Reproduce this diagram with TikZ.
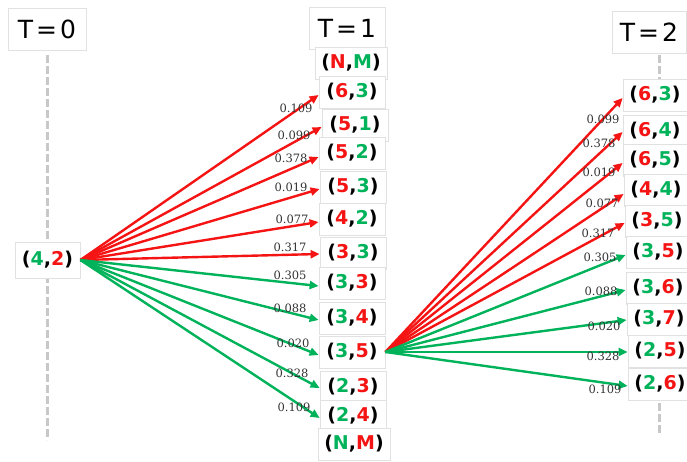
\documentclass[tikz,border=0pt]{standalone}
\usepackage{fontspec}
\setmainfont{DejaVu Sans}
\newfontfamily\lblfont{DejaVu Serif}
\usetikzlibrary{arrows.meta}
\definecolor{myred}{RGB}{245,20,20}
\definecolor{mygreen}{RGB}{0,178,90}
\definecolor{boxgray}{RGB}{225,225,225}
\definecolor{dashgray}{RGB}{200,200,200}
\newcommand{\rg}[2]{(\textcolor{myred}{#1},\textcolor{mygreen}{#2})}
\newcommand{\gr}[2]{(\textcolor{mygreen}{#1},\textcolor{myred}{#2})}
\begin{document}
\begin{tikzpicture}[x=1pt,y=-1pt,
  titlebox/.style={draw=boxgray, fill=white, line width=0.8pt, minimum height=42pt, inner sep=0pt, font=\fontsize{25}{25}\selectfont},
  pairbox/.style={draw=boxgray, fill=white, line width=0.8pt, minimum width=66pt, minimum height=32pt, inner sep=0pt, font=\fontsize{19}{19}\selectfont\bfseries},
  prob/.style={font=\lblfont\fontsize{11.5}{11.5}\selectfont, text=black!80, inner sep=0pt},
  redarr/.style={draw=myred, line width=2.4pt, -{Triangle[length=9pt,width=8pt]}},
  grnarr/.style={draw=mygreen, line width=2.4pt, -{Triangle[length=9pt,width=8pt]}},
  vdash/.style={draw=dashgray, line width=3pt, dash pattern=on 8pt off 3pt}]
\useasboundingbox (0,0) rectangle (687,462);
% dashed time lines
\coordinate (d0a) at (47,55);
\coordinate (d0b) at (47,440);
\draw[vdash] (d0a) -- (d0b);
\coordinate (d2a) at (659,55);
\coordinate (d2b) at (659,80);
\coordinate (d2c) at (659,403);
\coordinate (d2d) at (659,434);
\draw[vdash] (d2a) -- (d2b);
\draw[vdash] (d2c) -- (d2d);
% titles
\node[titlebox, minimum width=78pt] (t0) at (47,29) {T\kern3pt=\kern3pt0};
\node[titlebox, minimum width=76pt] (t1) at (347,28) {T\kern3pt=\kern3pt1};
\node[titlebox, minimum width=74pt] (t2) at (649,32) {T\kern3pt=\kern3pt2};
% T=0
\node[pairbox, minimum width=65pt, minimum height=36pt] (s) at (47.5,260) {\gr{4}{2}};
% T=1 column
\node[pairbox, minimum width=72pt] (nm1) at (351,63) {\rg{N}{M}};
\node[pairbox] (a63) at (352,92) {\rg{6}{3}};
\node[pairbox] (a51) at (355,125) {\rg{5}{1}};
\node[pairbox] (a52) at (352,153) {\rg{5}{2}};
\node[pairbox] (a53) at (353,187) {\rg{5}{3}};
\node[pairbox] (a42) at (352,219) {\rg{4}{2}};
\node[pairbox] (a33) at (353,253) {\rg{3}{3}};
\node[pairbox] (b33) at (352,283) {\gr{3}{3}};
\node[pairbox] (b34) at (352,318) {\gr{3}{4}};
\node[pairbox] (b35) at (352,352) {\gr{3}{5}};
\node[pairbox] (b23) at (353,387) {\gr{2}{3}};
\node[pairbox] (b24) at (353,416) {\gr{2}{4}};
\node[pairbox, minimum width=72pt] (nm2) at (354,444) {\gr{N}{M}};
% T=2 column
\node[pairbox, minimum width=64pt] (c63) at (655,95) {\rg{6}{3}};
\node[pairbox, minimum width=64pt] (c64) at (655,131) {\rg{6}{4}};
\node[pairbox, minimum width=64pt] (c65) at (655,160) {\rg{6}{5}};
\node[pairbox, minimum width=64pt] (c44) at (656,190) {\rg{4}{4}};
\node[pairbox, minimum width=64pt] (c35) at (657,221) {\rg{3}{5}};
\node[pairbox, minimum width=64pt] (e35) at (658,252) {\gr{3}{5}};
\node[pairbox, minimum width=64pt] (e36) at (658,288) {\gr{3}{6}};
\node[pairbox, minimum width=64pt] (e37) at (659,319) {\gr{3}{7}};
\node[pairbox, minimum width=64pt] (e25) at (660,351) {\gr{2}{5}};
\node[pairbox, minimum width=64pt] (e26) at (660,384) {\gr{2}{6}};
% arrows T=0 -> T=1
\draw[redarr] (s.east) -- ([yshift=-3pt]a63.west);
\draw[redarr] (s.east) -- ([yshift=-2pt]a51.west);
\draw[redarr] (s.east) -- ([yshift=-4pt]a52.west);
\draw[redarr] (s.east) -- ([yshift=-2pt]a53.west);
\draw[redarr] (s.east) -- ([yshift=-3pt]a42.west);
\draw[redarr] (s.east) -- ([yshift=-1pt]a33.west);
\draw[grnarr] (s.east) -- ([yshift=-3pt]b33.west);
\draw[grnarr] (s.east) -- ([yshift=-2pt]b34.west);
\draw[grnarr] (s.east) -- ([yshift=-3pt]b35.west);
\draw[grnarr] (s.east) -- ([yshift=-1pt]b23.west);
\draw[grnarr] (s.east) -- ([yshift=-2pt]b24.west);
% arrows T=1 -> T=2
\draw[redarr] (b35.east) -- ([yshift=-3pt]c63.west);
\draw[redarr] (b35.east) -- ([yshift=-1pt]c64.west);
\draw[redarr] (b35.east) -- ([yshift=-3pt]c65.west);
\draw[redarr] (b35.east) -- ([yshift=-4pt]c44.west);
\draw[redarr] (b35.east) -- ([yshift=-2pt]c35.west);
\draw[grnarr] (b35.east) -- ([yshift=-3pt]e35.west);
\draw[grnarr] (b35.east) -- ([yshift=-2pt]e36.west);
\draw[grnarr] (b35.east) -- ([yshift=-1pt]e37.west);
\draw[grnarr] (b35.east) -- ([yshift=-1pt]e25.west);
\draw[grnarr] (b35.east) -- ([yshift=-2pt]e26.west);
% probabilities T=0 -> T=1
\node[prob] (p1) at (296,108) {0.109};
\node[prob] (p2) at (294,135) {0.099};
\node[prob] (p3) at (291,158) {0.378};
\node[prob] (p4) at (291,187) {0.019};
\node[prob] (p5) at (292,219) {0.077};
\node[prob] (p6) at (290,247) {0.317};
\node[prob] (p7) at (290,275) {0.305};
\node[prob] (p8) at (290,308) {0.088};
\node[prob] (p9) at (293,343) {0.020};
\node[prob] (p10) at (292,373) {0.328};
\node[prob] (p11) at (294,407) {0.109};
% probabilities T=1 -> T=2
\node[prob] (q1) at (603,119) {0.099};
\node[prob] (q2) at (599,143) {0.378};
\node[prob] (q3) at (599,172) {0.019};
\node[prob] (q4) at (602,203) {0.077};
\node[prob] (q5) at (598,233) {0.317};
\node[prob] (q6) at (600,257) {0.305};
\node[prob] (q7) at (601,291) {0.088};
\node[prob] (q8) at (604,326) {0.020};
\node[prob] (q9) at (603,356) {0.328};
\node[prob] (q10) at (605,389) {0.109};
\end{tikzpicture}
\end{document}
